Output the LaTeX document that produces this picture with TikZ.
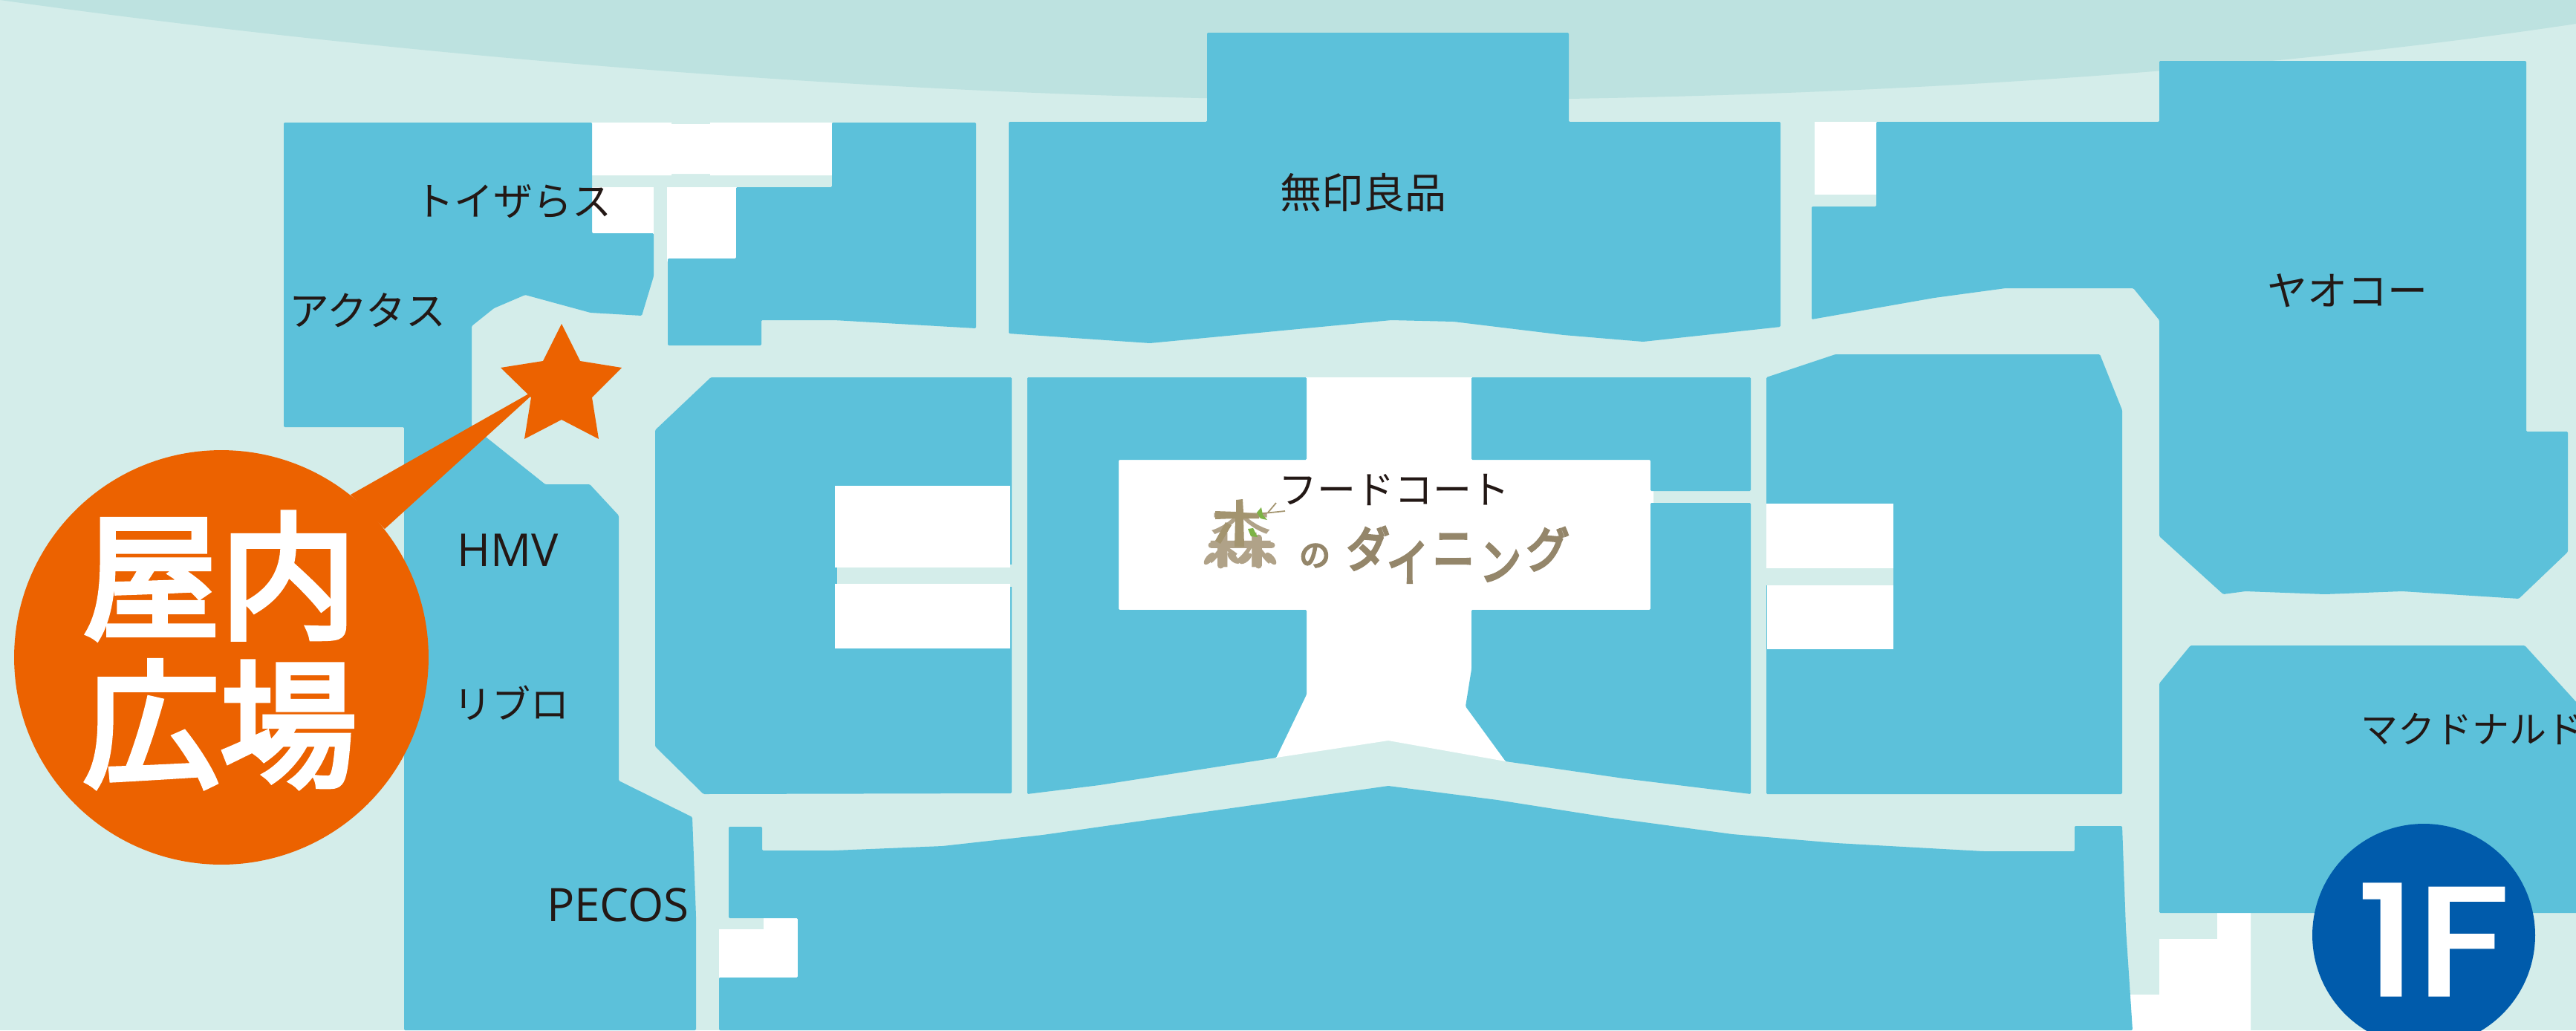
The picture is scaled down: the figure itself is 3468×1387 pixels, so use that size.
\documentclass[tikz,border=0pt]{standalone}
\usepackage{fontspec}
\setmainfont{Open Sans}
\newfontfamily\jp{Noto Sans CJK JP}
\newfontfamily\jpm[FakeBold=4]{Noto Sans CJK JP}
\newfontfamily\jpl[FakeBold=5]{Noto Sans CJK JP}
\newfontfamily\hd[FakeBold=2.5]{Poppins}
\definecolor{walk}{HTML}{D4EDEA}
\definecolor{lake}{HTML}{BDE2E0}
\definecolor{shop}{HTML}{5CC1DA}
\definecolor{flame}{HTML}{EC6200}
\definecolor{navy}{HTML}{005BAB}
\definecolor{ink}{HTML}{231815}
\definecolor{moss}{HTML}{94866A}
\definecolor{tan}{HTML}{B0A288}
\definecolor{bark}{HTML}{A3946F}
\definecolor{leafy}{HTML}{7DB346}
\newcommand{\pxfont}[1]{\fontsize{\dimexpr0.569pt*#1\relax}{\dimexpr0.6pt*#1\relax}\selectfont}
\tikzset{
  x=0.02cm,y=-0.02cm,
  shopfill/.style={fill=shop,rounded corners=0.8pt},
  voidfill/.style={fill=white},
  walkfill/.style={fill=walk},
  label/.style={text=ink,inner sep=0pt,font=\jp\pxfont{52}},
  latin/.style={text=ink,inner sep=0pt,font=\pxfont{61}},
  logo/.style={text=moss,inner sep=0pt,font=\jpl\pxfont{56}},
  tanstroke/.style={draw=tan,line width=5.1pt,line cap=round}
}
\begin{document}
\begin{tikzpicture}
\useasboundingbox (0,0) rectangle (3468,1387);
\clip (0,0) rectangle (3468,1387);
\fill[walk] (0,0) rectangle (3468,1387);
% lake arc
\fill[lake] (0,0) .. controls (500,70) and (1200,135) .. (1869,135) .. controls (2500,135) and (3050,95) .. (3468,32) -- (3468,0) -- cycle;
% white service areas
\fill[voidfill] (797,165) -- (904,165) -- (904,167) -- (956,167) -- (956,165) -- (1120,165) -- (1120,236) -- (956,236) -- (956,234) -- (904,234) -- (904,236) -- (797,236) -- cycle;
\fill[voidfill] (797,252) rectangle (880,320);
\fill[voidfill] (898,252) rectangle (995,352);
\fill[voidfill] (2443,164) rectangle (2530,262);
\fill[voidfill] (2985,1229) -- (3030,1229) -- (3030,1387) -- (2860,1387) -- (2860,1339) -- (2907,1339) -- (2907,1264) -- (2985,1264) -- cycle;
% toys / akutasu / hmv / pecos
\path[shopfill] (382,165) -- (797,165) -- (797,314) -- (880,314) -- (880,372) -- (864,425) -- (795,421) -- (707,397) -- (665,415) -- (635,439) -- (635,573) -- (734,652) -- (794,652) -- (833,694) -- (833,1051) -- (932,1100) -- (937,1233) -- (937,1387) -- (544,1387) -- (544,575) -- (382,575) -- cycle;
% block right of toys
\path[shopfill] (991,348) -- (991,252) -- (1120,252) -- (1120,165) -- (1314,165) -- (1314,442) -- (1123,431) -- (1025,431) -- (1025,465) -- (899,465) -- (899,348) -- cycle;
% muji
\path[shopfill] (1358,164) -- (1625,164) -- (1625,44) -- (2112,44) -- (2112,164) -- (2397,164) -- (2397,440) -- (2212,460) -- (2105,451) -- (1957,433) -- (1873,431) -- (1548,462) -- (1358,449) -- cycle;
% yaoko
\path[shopfill] (2526,164) -- (2907,164) -- (2907,82) -- (3401,82) -- (3401,581) -- (3457,581) -- (3457,743) -- (3391,806) -- (3234,796) -- (3130,800) -- (3023,796) -- (2993,800) -- (2907,722) -- (2907,431) -- (2872,388) -- (2700,388) -- (2604,401) -- (2439,430) -- (2439,278) -- (2526,278) -- cycle;
% macdonald
\path[shopfill] (2907,920) -- (2949,869) -- (3399,869) -- (3480,958) -- (3480,1229) -- (2907,1229) -- cycle;
% left block
\path[shopfill] (957,508) -- (1362,508) -- (1362,1068) -- (947,1069) -- (882,1005) -- (882,579) -- cycle;
\fill[walkfill] (1127,760) rectangle (1364,790);
\fill[voidfill] (1124,654) rectangle (1360,764);
\fill[voidfill] (1124,786) rectangle (1360,873);
% food court
\fill[voidfill] (1757,508) -- (1983,508) -- (1983,619) -- (2226,619) -- (2226,821) -- (1983,821) -- (1983,901) -- (1975,951) -- (2027,1025) -- (1869,997) -- (1718,1020) -- (1757,935) -- (1757,821) -- (1506,821) -- (1506,619) -- (1757,619) -- cycle;
\path[shopfill] (1383,508) -- (1759,508) -- (1759,619) -- (1506,619) -- (1506,821) -- (1759,821) -- (1759,935) -- (1718,1020) -- (1480,1057) -- (1383,1069) -- cycle;
\path[shopfill] (1981,508) -- (2357,508) -- (2357,661) -- (2222,661) -- (2222,619) -- (1981,619) -- cycle;
\path[shopfill] (2222,677) -- (2357,677) -- (2357,1069) -- (2186,1048) -- (2027,1025) -- (1973,951) -- (1981,901) -- (1981,821) -- (2222,821) -- cycle;
% right block
\path[shopfill] (2378,508) -- (2471,477) -- (2827,477) -- (2857,552) -- (2857,1069) -- (2378,1069) -- cycle;
\fill[walkfill] (2376,765) rectangle (2549,788);
\fill[voidfill] (2378,678) rectangle (2549,765);
\fill[voidfill] (2379,788) rectangle (2549,874);
% bottom block
\fill[voidfill] (968,1236) rectangle (1074,1316);
\fill[walkfill] (968,1236) rectangle (1028,1251);
\path[shopfill] (981,1113) -- (1026,1113) -- (1026,1145) -- (1123,1145) -- (1269,1139) -- (1404,1124) -- (1869,1058) -- (2016,1077) -- (2162,1100) -- (2332,1123) -- (2472,1135) -- (2670,1146) -- (2793,1146) -- (2793,1112) -- (2857,1112) -- (2862,1250) -- (2871,1387) -- (968,1387) -- (968,1316) -- (1074,1316) -- (1074,1236) -- (981,1236) -- cycle;
% labels
\node[label,font=\jp\pxfont{53}] (toys) at (691,271) {トイザらス};
\node[label,font=\jp\pxfont{54}] (acta) at (495,418) {アクタス};
\node[label,font=\jp\pxfont{56}] (muji) at (1835,259) {無印良品};
\node[label,font=\jp\pxfont{54}] (yaoko) at (3160,391) {ヤオコー};
\node[label,anchor=west,font=\jp\pxfont{50.5}] (mac) at (3178,981) {マクドナルド};
\node[label] (food) at (1877,659) {フードコート};
\node[label] (libro) at (688,946) {リブロ};
\node[latin] (hmv) at (684,741) {HMV};
\node[latin,font=\pxfont{62}] (pecos) at (832,1218) {PECOS};
% logo
\node[logo,text=tan,font=\jp\pxfont{90}] (mori) at (1670,722) {森};
\draw[tanstroke] (1631,734) -- (1712,734);
\draw[tanstroke] (1643,728) -- (1643,761);
\draw[tanstroke] (1694,724) -- (1694,761);
\fill[tan,rotate around={50:(1628,752)}] (1628,752) ellipse [x radius=0.2cm,y radius=0.09cm];
\fill[tan,rotate around={-45:(1660,751)}] (1660,751) ellipse [x radius=0.2cm,y radius=0.09cm];
\fill[tan,rotate around={40:(1677,752)}] (1677,752) ellipse [x radius=0.2cm,y radius=0.09cm];
\fill[tan,rotate around={-50:(1711,752)}] (1711,752) ellipse [x radius=0.2cm,y radius=0.09cm];
\fill[bark] (1636,688) -- (1664,689) -- (1664,673) -- (1673,672) -- (1674,690) -- (1695,692) -- (1695,698) -- (1674,698) -- (1675,736) -- (1662,736) -- (1663,698) -- (1636,699) -- cycle;
\fill[bark] (1650,703) -- (1658,707) -- (1643,732) -- (1636,728) -- cycle;
\draw[bark,line width=1pt] (1692,692) -- (1730,688);
\draw[bark,line width=1pt] (1707,690) -- (1718,677);
\fill[leafy] (1692,690) -- (1698,683) -- (1700,693) -- (1706,700) -- (1697,698) -- cycle;
\fill[leafy] (1680,712) -- (1687,711) -- (1693,723) -- (1684,722) -- cycle;
\node[logo,font=\jpl\pxfont{42}] (no) at (1770,748) {の};
\node[logo,rotate=-5] (da) at (1841,738) {\scalebox{1}[1.2]{ダ}};
\node[logo] (i) at (1895,757) {\scalebox{1}[1.2]{イ}};
\node[logo] (ni) at (1957,741) {\scalebox{1}[1.2]{ニ}};
\node[logo] (n) at (2020,757) {\scalebox{1}[1.2]{ン}};
\node[logo,rotate=-5] (gu) at (2083,739) {\scalebox{1}[1.2]{グ}};
% star and callout
\fill[flame] (756,436) -- (781,486) -- (837,495) -- (797,535) -- (806,591) -- (756,565) -- (706,591) -- (715,535) -- (674,495) -- (731,486) -- cycle;
\fill[flame] (472,666) -- (712,530) -- (715,533) -- (518,712) -- cycle;
\node[circle,fill=flame,minimum size=11.16cm,inner sep=0pt] (bubble) at (298,885) {};
\node[text=white,inner sep=0pt,align=center,font={\jpm\fontsize{105pt}{113.5pt}\selectfont}] (square) at (296,875) {屋内\\広場};
% floor badge
\node[circle,fill=navy,minimum size=6cm,inner sep=0pt] (badge) at (3263,1259) {};
\node[text=white,inner sep=0pt,font=\hd\pxfont{205}] (floor) at (3276,1265) {\scalebox{1.2}[1]{1F}};
\end{tikzpicture}
\end{document}
